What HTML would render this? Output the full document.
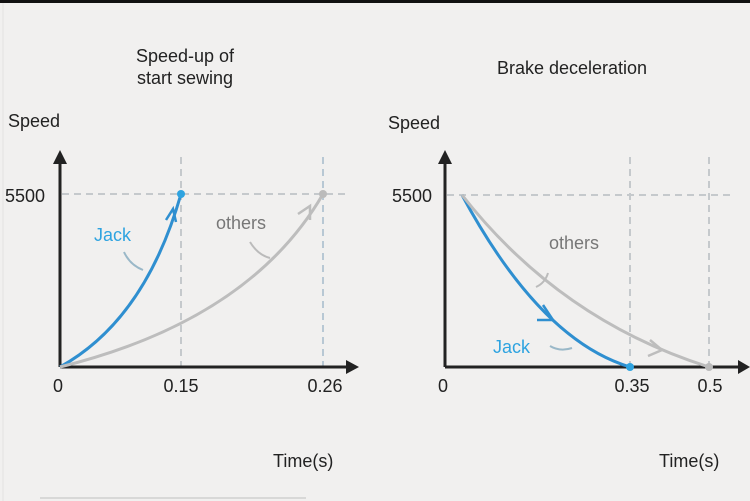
<!DOCTYPE html>
<html><head><style>
html,body{margin:0;padding:0;background:#f1f0ef;}
svg{display:block;}
</style></head><body>
<svg width="750" height="501" viewBox="0 0 750 501" xmlns="http://www.w3.org/2000/svg" font-family="Liberation Sans, sans-serif">
<rect x="0" y="0" width="750" height="501" fill="#f1f0ef"/>
<rect x="0" y="0" width="750" height="3" fill="#111"/>
<line x1="3" y1="3" x2="3" y2="501" stroke="#e2e2e2" stroke-width="1"/>
<line x1="40" y1="498" x2="306" y2="498" stroke="#cfcfcf" stroke-width="1.5"/>
<defs>
<marker id="ar" markerWidth="10" markerHeight="10" refX="5" refY="5" orient="auto"><path d="M0,0 L10,5 L0,10 z" fill="#222"/></marker>
</defs>
<g fill="#222" font-size="18">
<text x="185" y="62" text-anchor="middle">Speed-up of</text>
<text x="185" y="84" text-anchor="middle">start sewing</text>
<text x="572" y="74" text-anchor="middle">Brake deceleration</text>
<text x="8" y="127">Speed</text>
<text x="388" y="129">Speed</text>
<text x="273" y="467">Time(s)</text>
<text x="659" y="467">Time(s)</text>
<text x="5" y="202" font-family="Liberation Sans Narrow, Liberation Sans, sans-serif">5500</text>
<text x="392" y="202" font-family="Liberation Sans Narrow, Liberation Sans, sans-serif">5500</text>
<text x="58" y="392" text-anchor="middle">0</text>
<text x="181" y="392" text-anchor="middle">0.15</text>
<text x="325" y="392" text-anchor="middle">0.26</text>
<text x="443" y="392" text-anchor="middle">0</text>
<text x="632" y="392" text-anchor="middle">0.35</text>
<text x="710" y="392" text-anchor="middle">0.5</text>
</g>
<!-- grid dashed -->
<g stroke="#c5c9cc" stroke-width="2" stroke-dasharray="7,5" fill="none">
<line x1="62" y1="194" x2="350" y2="194"/>
<line x1="181" y1="157" x2="181" y2="367"/>
<line x1="323" y1="157" x2="323" y2="367" stroke="#b8c8d4"/>
<line x1="447" y1="195" x2="735" y2="195"/>
<line x1="630" y1="157" x2="630" y2="367"/>
<line x1="709" y1="157" x2="709" y2="367"/>
</g>
<!-- axes -->
<g stroke="#222" stroke-width="3">
<line x1="60" y1="367" x2="60" y2="160"/>
<line x1="60" y1="367" x2="350" y2="367"/>
<line x1="445" y1="367" x2="445" y2="160"/>
<line x1="445" y1="367" x2="742" y2="367"/>
</g>
<path d="M53,164 L60,150 L67,164 z" fill="#222"/>
<path d="M346,360 L359,367 L346,374 z" fill="#222"/>
<path d="M438,164 L445,150 L452,164 z" fill="#222"/>
<path d="M738,360 L750,367 L738,374 z" fill="#222"/>
<!-- left curves -->
<path d="M60,367 Q145,320 181,194" stroke="#2f8fd0" stroke-width="3" fill="none"/>
<path d="M60,367 Q250,320 323,194" stroke="#bdbdbd" stroke-width="3" fill="none"/>
<circle cx="181" cy="194" r="4" fill="#2ea3e0"/>
<circle cx="323" cy="194" r="4" fill="#bbb"/>
<path d="M166,220 L173,209 L176,222" stroke="#2f8fd0" stroke-width="2.5" fill="none"/>
<path d="M298,214 L310,206 L310,220" stroke="#bdbdbd" stroke-width="2.5" fill="none"/>
<path d="M124,252 Q130,265 143,270" stroke="#9ab8c8" stroke-width="2" fill="none"/>
<path d="M250,242 Q258,255 270,258" stroke="#bbb" stroke-width="2" fill="none"/>
<text x="94" y="241" fill="#2ea3e0" font-size="18">Jack</text>
<text x="216" y="229" fill="#777" font-size="18">others</text>
<!-- right curves -->
<path d="M462,195 Q540,340 630,367" stroke="#2f8fd0" stroke-width="3" fill="none"/>
<path d="M462,195 Q560,320 709,367" stroke="#bdbdbd" stroke-width="3" fill="none"/>
<circle cx="630" cy="367" r="4" fill="#2ea3e0"/>
<circle cx="709" cy="367" r="4" fill="#bbb"/>
<path d="M543,305 L553,320 L537,320" stroke="#2f8fd0" stroke-width="2.5" fill="none"/>
<path d="M650,340 L662,350 L648,356" stroke="#bdbdbd" stroke-width="2.5" fill="none"/>
<path d="M548,273 Q545,283 536,287" stroke="#bbb" stroke-width="2" fill="none"/>
<path d="M550,346 Q560,352 572,348" stroke="#9ab8c8" stroke-width="2" fill="none"/>
<text x="549" y="249" fill="#777" font-size="18">others</text>
<text x="493" y="353" fill="#2ea3e0" font-size="18">Jack</text>
</svg>
</body></html>
